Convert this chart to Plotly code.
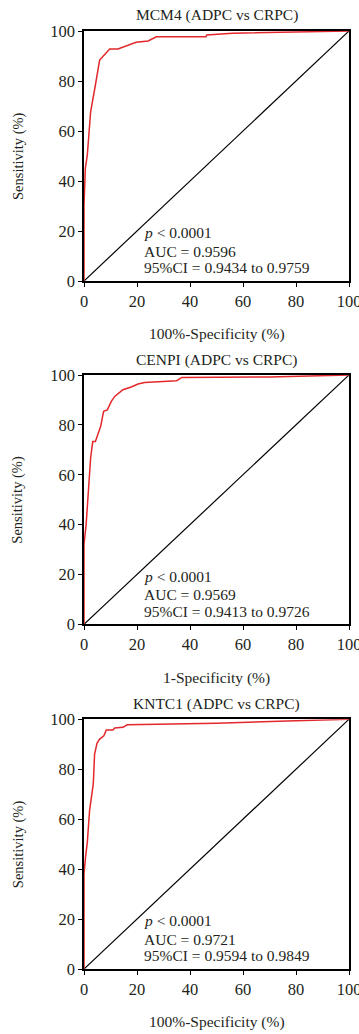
import plotly.graph_objects as go

# ROC curve points (1-specificity %, sensitivity %) for each gene
mcm4_fpr = [0, 0, 0.5, 1.25, 2.5, 3.4, 4.3, 5.9, 9.7, 12.8, 16.6, 19.7, 24.2, 25.7, 27.3, 46.0, 46.3, 56.0, 75.0, 100]
mcm4_tpr = [0, 30, 45, 50.4, 67.7, 72.4, 78.4, 88.4, 92.8, 92.8, 94.4, 95.5, 96.0, 96.8, 97.7, 97.7, 98.4, 99.1, 99.4, 100]

cenpi_fpr = [0, 0, 0.8, 1.9, 2.5, 3.3, 4.3, 6.3, 7.4, 8.8, 10.3, 11.6, 14.7, 17.8, 20.4, 22.9, 30.4, 35.0, 36.9, 70.0, 100]
cenpi_tpr = [0, 32, 40, 56.0, 66.7, 73.3, 73.3, 79.4, 85.4, 86.0, 89.4, 91.4, 94.1, 95.2, 96.4, 97.0, 97.3, 97.7, 99.0, 99.2, 100]

kntc1_fpr = [0, 0, 0.6, 1.25, 2.1, 2.75, 3.5, 4.0, 4.9, 5.9, 7.5, 8.4, 10.9, 11.6, 14.7, 16.3, 35.5, 50.0, 80.0, 100]
kntc1_tpr = [0, 38, 45, 50.7, 63.4, 69.4, 74.1, 86.1, 90.4, 92.1, 93.4, 95.7, 95.7, 96.5, 96.8, 97.8, 98.2, 98.4, 99.4, 100]

titles = ["MCM4 (ADPC vs CRPC)", "CENPI (ADPC vs CRPC)", "KNTC1 (ADPC vs CRPC)"]
x_titles = ["100%-Specificity (%)", "1-Specificity (%)", "100%-Specificity (%)"]
p_texts = ["<i>p</i> < 0.0001", "<i>p</i> < 0.0001", "<i>p</i> < 0.0001"]
auc_texts = ["AUC = 0.9596", "AUC = 0.9569", "AUC = 0.9721"]
ci_texts = ["95%CI = 0.9434 to 0.9759", "95%CI = 0.9413 to 0.9726", "95%CI = 0.9594 to 0.9849"]
tick_vals = [0, 20, 40, 60, 80, 100]

curves = [(mcm4_fpr, mcm4_tpr), (cenpi_fpr, cenpi_tpr), (kntc1_fpr, kntc1_tpr)]

W, H = 359, 1034
# panel pixel extents (top, bottom) of each plotting area
panels_px = [(31, 281), (375, 624.3), (719.3, 969)]
title_px = [15, 360, 704]
xtitle_px = [334, 678, 1022]

FONT = "Liberation Serif, Times New Roman, serif"
TXT = "#231f20"
RED = "#e3282b"

fig = go.Figure()
layout = dict(
    width=W, height=H,
    margin=dict(l=0, r=0, t=0, b=0),
    paper_bgcolor="white", plot_bgcolor="white",
    showlegend=False,
    font=dict(family=FONT, size=15, color=TXT),
)
annotations = []

for i, ((fx, ty), (top, bot)) in enumerate(zip(curves, panels_px)):
    xa = "x" if i == 0 else f"x{i+1}"
    ya = "y" if i == 0 else f"y{i+1}"
    xkey = "xaxis" if i == 0 else f"xaxis{i+1}"
    ykey = "yaxis" if i == 0 else f"yaxis{i+1}"

    fig.add_trace(go.Scatter(x=[0, 100], y=[0, 100], mode="lines",
                             line=dict(color="black", width=1.2),
                             xaxis=xa, yaxis=ya, hoverinfo="skip"))
    fig.add_trace(go.Scatter(x=fx, y=ty, mode="lines",
                             line=dict(color=RED, width=1.5),
                             xaxis=xa, yaxis=ya))

    ydom = [1 - bot / H, 1 - top / H]
    axis_common = dict(range=[0, 100], tickvals=tick_vals, ticks="outside", ticklen=4,
                       tickwidth=1.3, tickcolor="black", showline=True, linecolor="black",
                       linewidth=1.5, mirror=True, showgrid=False, zeroline=False,
                       automargin=False,
                       tickfont=dict(family=FONT, size=16.5, color=TXT))
    layout[xkey] = dict(domain=[84 / W, 349 / W], anchor=ya,
                        ticklabeloverflow="allow", **axis_common)
    layout[ykey] = dict(domain=ydom, anchor=xa, **axis_common)

    # panel title
    annotations.append(dict(text=titles[i], xref="paper", yref="paper",
                            x=216.5 / W, y=1 - title_px[i] / H, xanchor="center", yanchor="middle",
                            showarrow=False, font=dict(family=FONT, size=15.5)))
    # x-axis title
    annotations.append(dict(text=x_titles[i], xref="paper", yref="paper",
                            x=216.5 / W, y=1 - xtitle_px[i] / H, xanchor="center", yanchor="middle",
                            showarrow=False, font=dict(family=FONT, size=15.5)))
    # y-axis title
    annotations.append(dict(text="Sensitivity (%)", xref="paper", yref="paper",
                            x=18 / W, y=1 - (top + bot) / 2 / H, xanchor="center", yanchor="middle",
                            textangle=-90, showarrow=False, font=dict(family=FONT, size=14.5)))
    # statistics text
    for txt, yv in zip([p_texts[i], auc_texts[i], ci_texts[i]], [19.3, 11.8, 5.3]):
        annotations.append(dict(text=txt, xref=xa, yref=ya, x=21.8, y=yv,
                                xanchor="left", yanchor="middle", showarrow=False,
                                font=dict(family=FONT, size=15.5)))

layout["annotations"] = annotations
fig.update_layout(**layout)
fig.write_html("out.html")
